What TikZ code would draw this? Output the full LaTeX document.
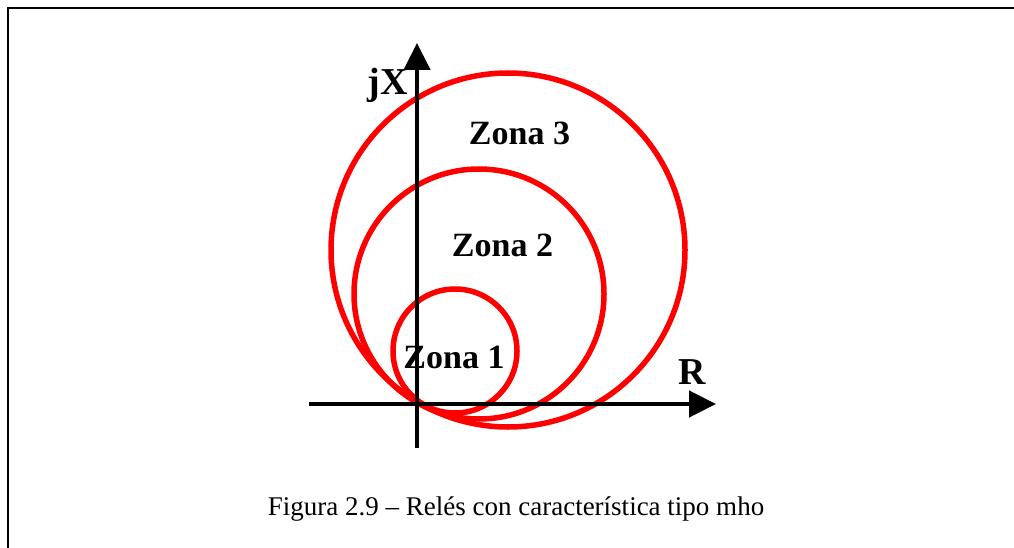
\documentclass[tikz,border=0pt]{standalone}
\usepackage{fontspec}
\setmainfont{Liberation Serif}
\usetikzlibrary{arrows.meta, positioning, calc}
\definecolor{mhored}{RGB}{255, 0, 0}
\definecolor{axisblack}{RGB}{0, 0, 0}

\begin{document}
\begin{tikzpicture}[
  x=1pt, y=-1pt,
  zone/.style={draw=mhored, line width=5.5pt},
  axis/.style={-{Triangle[length=27pt, width=26pt]}, line width=4.5pt, axisblack},
  frame/.style={line width=2.6pt, axisblack, line cap=rect},
  zlabel/.style={inner sep=0pt, anchor=base, font=\fontsize{34}{36}\selectfont\bfseries},
  alabel/.style={inner sep=0pt, font=\fontsize{38}{40}\selectfont\bfseries}
]
  \useasboundingbox (0,0) rectangle (1014,548);
  % frame round the figure
  \coordinate (fbl) at (8,548);
  \coordinate (ftl) at (8,8);
  \coordinate (ftr) at (1014,8);
  \draw[frame] (fbl) -- (ftl) -- (ftr);
  % mho circles
  \coordinate (c1) at (455,351);
  \coordinate (c2) at (479,294);
  \coordinate (c3) at (508,250);
  \draw[zone] (c3) circle[radius=177pt];
  \draw[zone] (c2) circle[radius=125pt];
  \draw[zone] (c1) circle[radius=62pt];
  % axes
  \coordinate (rstart) at (309,404);
  \coordinate (rend) at (716,404);
  \coordinate (xstart) at (417,448);
  \coordinate (xend) at (417,43);
  \draw[axis] (rstart) -- (rend);
  \draw[axis] (xstart) -- (xend);
  \node[alabel, anchor=base east] (jx) at (408,95) {jX};
  \node[alabel, anchor=base west] (rlab) at (678,384) {R};
  % zone labels
  \node[zlabel] (zona3) at (519.5,145) {Zona 3};
  \node[zlabel] (zona2) at (502.5,256) {Zona 2};
  \node[zlabel] (zona1) at (454,368) {Zona 1};
  % caption
  \node[inner sep=0pt, anchor=base, font=\fontsize{27}{30}\selectfont] (caption) at (516,515)
    {Figura 2.9 – Relés con característica tipo mho};
\end{tikzpicture}
\end{document}
